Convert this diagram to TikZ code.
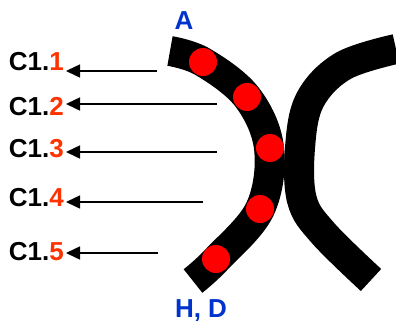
\documentclass[tikz,border=0pt]{standalone}
\usepackage{fontspec}
\setmainfont{Liberation Sans}
\usetikzlibrary{arrows.meta}
\definecolor{numred}{RGB}{255,51,0}
\definecolor{labblue}{RGB}{0,51,204}
\definecolor{dotred}{RGB}{255,0,0}
\tikzset{
  chrom/.style={line width=30pt, black, line cap=butt},
  dotc/.style={circle, fill=dotred, minimum size=28pt, inner sep=0pt},
  lab/.style={anchor=east, inner xsep=2pt, inner ysep=0pt, font=\fontsize{26}{30}\selectfont\bfseries},
  endl/.style={font=\fontsize{26}{30}\selectfont\bfseries, text=labblue, inner sep=0pt},
  arr/.style={line width=1.5pt, -{Triangle[length=14pt,width=13pt]}}
}
\begin{document}
\begin{tikzpicture}[x=1pt,y=-1pt]
\useasboundingbox (0,0) rectangle (396,324);
% chromosomes
\draw[chrom] plot[smooth, tension=0.6] coordinates {(170,51) (203,62) (247,97) (269,148) (260,209) (217,259) (193,281)};
\draw[chrom] plot[smooth, tension=0.6] coordinates {(396,49) (343,66) (310,100) (300,148) (302,200) (323,233) (371,280)};
% dots
\node[dotc] (d1) at (203,62) {};
\node[dotc] (d2) at (247,97) {};
\node[dotc] (d3) at (270,148) {};
\node[dotc] (d4) at (260,209) {};
\node[dotc] (d5) at (216,259) {};
% end labels
\node[endl] (A) at (184,21) {A};
\node[endl] (HD) at (201,311) {H, D};
% side labels
\node[lab] (l1) at (66,62) {C1.\textcolor{numred}{1}};
\node[lab] (l2) at (66,107) {C1.\textcolor{numred}{2}};
\node[lab] (l3) at (66,149) {C1.\textcolor{numred}{3}};
\node[lab] (l4) at (66,198) {C1.\textcolor{numred}{4}};
\node[lab] (l5) at (66,252) {C1.\textcolor{numred}{5}};
% arrow starts
\coordinate (s1) at (157,71);
\coordinate (s2) at (217,104);
\coordinate (s3) at (217,152);
\coordinate (s4) at (203,202);
\coordinate (s5) at (158,253);
\draw[arr] (s1) -- (s1 -| l1.east);
\draw[arr] (s2) -- (s2 -| l2.east);
\draw[arr] (s3) -- (s3 -| l3.east);
\draw[arr] (s4) -- (s4 -| l4.east);
\draw[arr] (s5) -- (s5 -| l5.east);
\end{tikzpicture}
\end{document}
